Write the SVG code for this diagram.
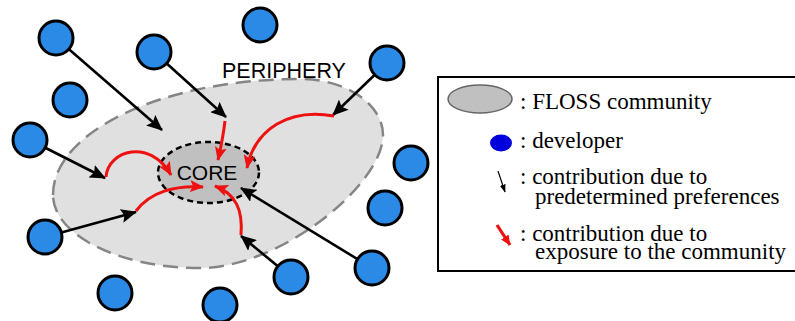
<svg xmlns="http://www.w3.org/2000/svg" width="795" height="321" viewBox="0 0 795 321">
<style>
.dev{fill:#2b8ae6;stroke:#000;stroke-width:3}
.blk{fill:none;stroke:#000;stroke-width:2.6;marker-end:url(#ab)}
.red{fill:none;stroke:#ee1111;stroke-width:3;marker-end:url(#ar)}
.lg{font-family:'Liberation Serif';font-size:23px;fill:#000}
.sn{font-family:'Liberation Sans';fill:#000}
</style>
<defs>
<marker id="ab" viewBox="0 0 16 14" refX="15" refY="7" markerWidth="16" markerHeight="14" markerUnits="userSpaceOnUse" orient="auto"><path d="M0,0 L16,7 L0,14 L3,7z" fill="#000"/></marker>
<marker id="ar" viewBox="0 0 14 12" refX="13" refY="6" markerWidth="14" markerHeight="12" markerUnits="userSpaceOnUse" orient="auto"><path d="M0,0 L14,6 L0,12 L3,6z" fill="#ee1111"/></marker>
<marker id="abs" viewBox="0 0 8 6" refX="7.5" refY="3" markerWidth="8" markerHeight="6" markerUnits="userSpaceOnUse" orient="auto"><path d="M0,0 L8,3 L0,6z" fill="#000"/></marker>
<marker id="ars" viewBox="0 0 10 9" refX="9.5" refY="4.5" markerWidth="10" markerHeight="9" markerUnits="userSpaceOnUse" orient="auto"><path d="M0,0 L10,4.5 L0,9z" fill="#ee1111"/></marker>
</defs>
<rect width="795" height="321" fill="#fff"/>
<g id="periphery">
<path d="M53,195 C53,131 164,79 300,79 C346,79 383,104 383,135 C383,185 280,268 200,268 C119,268 53,235 53,195 Z" fill="#e0e0e0" stroke="#858585" stroke-width="2.5" stroke-dasharray="15,8"/>
<text class="sn" x="222" y="78" font-size="21.5">PERIPHERY</text>
</g>
<g id="core">
<ellipse cx="208.5" cy="172.5" rx="50.5" ry="30.5" fill="#c0c0c0" stroke="#000" stroke-width="2.5" stroke-dasharray="6,4"/>
<text class="sn" x="207" y="180" font-size="21" text-anchor="middle">CORE</text>
</g>
<g id="connectors">
<line class="blk" x1="56" y1="38" x2="162" y2="130"/>
<line class="blk" x1="154" y1="52" x2="226" y2="117"/>
<line class="blk" x1="387" y1="63" x2="333" y2="115"/>
<line class="blk" x1="30" y1="140" x2="105" y2="178"/>
<line class="blk" x1="45" y1="237" x2="136" y2="212"/>
<line class="blk" x1="291" y1="277" x2="241" y2="236"/>
<line class="blk" x1="372" y1="268" x2="241" y2="188"/>
<path class="red" d="M225,121 Q223,138 218,160"/>
<path class="red" d="M334,116 C290,108 255,128 247,168"/>
<path class="red" d="M106,177 C108,150 150,138 171,175"/>
<path class="red" d="M136,211 C150,192 175,185 203,187"/>
<path class="red" d="M241,235 C243,210 236,194 215,186"/>
</g>
<g id="dev1"><circle class="dev" cx="56" cy="38" r="17"/></g>
<g id="dev2"><circle class="dev" cx="154" cy="52" r="17"/></g>
<g id="dev3"><circle class="dev" cx="260" cy="25" r="17"/></g>
<g id="dev4"><circle class="dev" cx="387" cy="63" r="17"/></g>
<g id="dev5"><circle class="dev" cx="70" cy="100" r="17"/></g>
<g id="dev6"><circle class="dev" cx="30" cy="140" r="17"/></g>
<g id="dev7"><circle class="dev" cx="411" cy="163" r="17"/></g>
<g id="dev8"><circle class="dev" cx="385" cy="208" r="17"/></g>
<g id="dev9"><circle class="dev" cx="45" cy="237" r="17"/></g>
<g id="dev10"><circle class="dev" cx="372" cy="268" r="17"/></g>
<g id="dev11"><circle class="dev" cx="291" cy="277" r="17"/></g>
<g id="dev12"><circle class="dev" cx="115" cy="293" r="17"/></g>
<g id="dev13"><circle class="dev" cx="220" cy="305" r="17"/></g>
<g id="legend">
<rect x="438" y="77" width="370" height="194" fill="#fff" stroke="#000" stroke-width="2"/>
<ellipse cx="480" cy="99" rx="32" ry="14" fill="#c0c0c0" stroke="#666" stroke-width="1.5"/>
<text class="lg" x="520" y="109">: FLOSS community</text>
<ellipse cx="501" cy="143" rx="11" ry="8.5" fill="#0000dd"/>
<text class="lg" x="520" y="148">: developer</text>
<line x1="498" y1="171" x2="505" y2="192" stroke="#000" stroke-width="1.2" marker-end="url(#abs)"/>
<text class="lg" x="520" y="184">: contribution due to</text>
<text class="lg" x="535" y="204">predetermined preferences</text>
<line x1="497" y1="225" x2="510" y2="245" stroke="#ee1111" stroke-width="3.2" marker-end="url(#ars)"/>
<text class="lg" x="520" y="241">: contribution due to</text>
<text class="lg" x="535" y="259">exposure to the community</text>
</g>
</svg>
